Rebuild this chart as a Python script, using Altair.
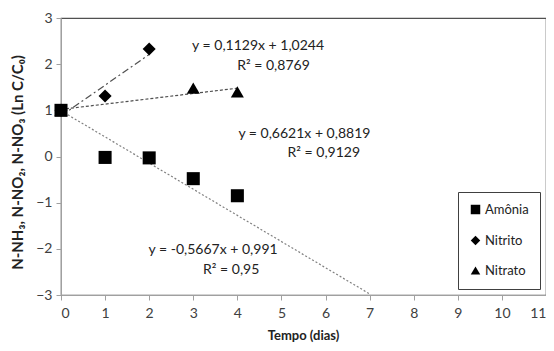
import altair as alt
import pandas as pd

# Data points
dias_amonia = [0, 1, 2, 3, 4]
amonia = [1.0, -0.02, -0.03, -0.48, -0.85]
dias_nitrito = [0, 1, 2]
nitrito = [1.0, 1.31, 2.33]
dias_nitrato = [0, 3, 4]
nitrato = [1.0, 1.48, 1.40]

series = ["Amônia", "Nitrito", "Nitrato"]

# Trend line endpoints
trend_amonia_x = [0, 7]
trend_amonia_y = [0.991, -2.976]
trend_nitrito_x = [0, 2]
trend_nitrito_y = [0.88, 2.21]
trend_nitrato_x = [0, 4]
trend_nitrato_y = [1.02, 1.48]

# Equation annotations
ann_text = ["y = 0,1129x + 1,0244", "R² = 0,8769",
            "y = 0,6621x + 0,8819", "R² = 0,9129",
            "y = -0,5667x + 0,991", "R² = 0,95"]
ann_x = [4.47, 4.82, 5.52, 5.96, 3.45, 3.86]
ann_y = [2.39, 1.96, 0.49, 0.08, -2.02, -2.45]

FONT = "Lato"

rows = []
for s, xs, ys in [("Nitrato", dias_nitrato, nitrato), ("Nitrito", dias_nitrito, nitrito), ("Amônia", dias_amonia, amonia)]:
    for i, (a, b) in enumerate(zip(xs, ys)):
        rows.append({"serie": s, "dias": a, "val": b, "ord": len(rows)})
pts = pd.DataFrame(rows)

xscale = alt.Scale(domain=[0, 11], nice=False, zero=False)
yscale = alt.Scale(domain=[-3, 3], nice=False, zero=False)

xaxis = alt.Axis(values=list(range(0, 12)), title="Tempo (dias)", grid=False,
                 domainColor="#a0a0a0", tickColor="#a0a0a0", tickSize=5,
                 labelFontSize=14, labelColor="#404040", labelFont=FONT, labelPadding=6,
                 titleFont=FONT, titleFontSize=13, titleFontWeight="bold", titleColor="#222222",
                 titleX=242, titleY=40, titleBaseline="middle")
yaxis = alt.Axis(values=list(range(-3, 4)), title="N-NH₃, N-NO₂, N-NO₃  (Ln C/C₀)", grid=False,
                 domainColor="#a0a0a0", tickColor="#a0a0a0", tickSize=5,
                 labelFontSize=14, labelColor="#404040", labelFont=FONT, labelPadding=4,
                 titleFont=FONT, titleFontSize=15, titleFontWeight="bold", titleColor="#222222",
                 titleX=-44, titleY=144, titleAngle=-90, titleBaseline="middle", titleAlign="center")

def trend(xs, ys, dash, color):
    df = pd.DataFrame({"dias": xs, "val": ys})
    return alt.Chart(df).mark_line(strokeDash=dash, color=color, strokeWidth=1.2).encode(
        x=alt.X("dias:Q", scale=xscale, axis=xaxis),
        y=alt.Y("val:Q", scale=yscale, axis=yaxis),
    )

t1 = trend(trend_amonia_x, trend_amonia_y, [2, 2], "#808080")
t2 = trend(trend_nitrito_x, trend_nitrito_y, [7, 3, 2, 3], "#505050")
t3 = trend(trend_nitrato_x, trend_nitrato_y, [3, 2], "#505050")

points = alt.Chart(pts).mark_point(filled=True, opacity=1, color="black", size=170).encode(
    x=alt.X("dias:Q", scale=xscale, axis=xaxis),
    y=alt.Y("val:Q", scale=yscale, axis=yaxis),
    shape=alt.Shape("serie:N",
                    scale=alt.Scale(domain=series, range=["square", "diamond", "triangle-up"]),
                    legend=alt.Legend(title=None, orient="none", legendX=397, legendY=174,
                                      direction="vertical", fillColor="white",
                                      strokeColor="#404040", padding=11,
                                      labelFont=FONT, labelFontSize=13, labelColor="#222222",
                                      symbolSize=90, symbolFillColor="black", symbolStrokeColor="black",
                                      rowPadding=14, labelOffset=3)),
    order=alt.Order("ord:Q"),
)

ann = alt.Chart(pd.DataFrame({"t": ann_text, "x": ann_x, "y": ann_y})).mark_text(
    font=FONT, fontSize=14, color="#222222", align="center", baseline="middle"
).encode(
    x=alt.X("x:Q", scale=xscale, axis=xaxis),
    y=alt.Y("y:Q", scale=yscale, axis=yaxis),
    text="t:N",
)

chart = alt.layer(t1, t2, t3, points, ann).properties(
    width=485, height=277,
    autosize=alt.AutoSizeParams(type="none"),
    padding={"left": 53, "top": 10, "right": 0, "bottom": 48},
).configure_view(stroke="#505050", strokeWidth=1.2)

chart.save("out.html", embed_options={"renderer": "svg", "actions": False})
